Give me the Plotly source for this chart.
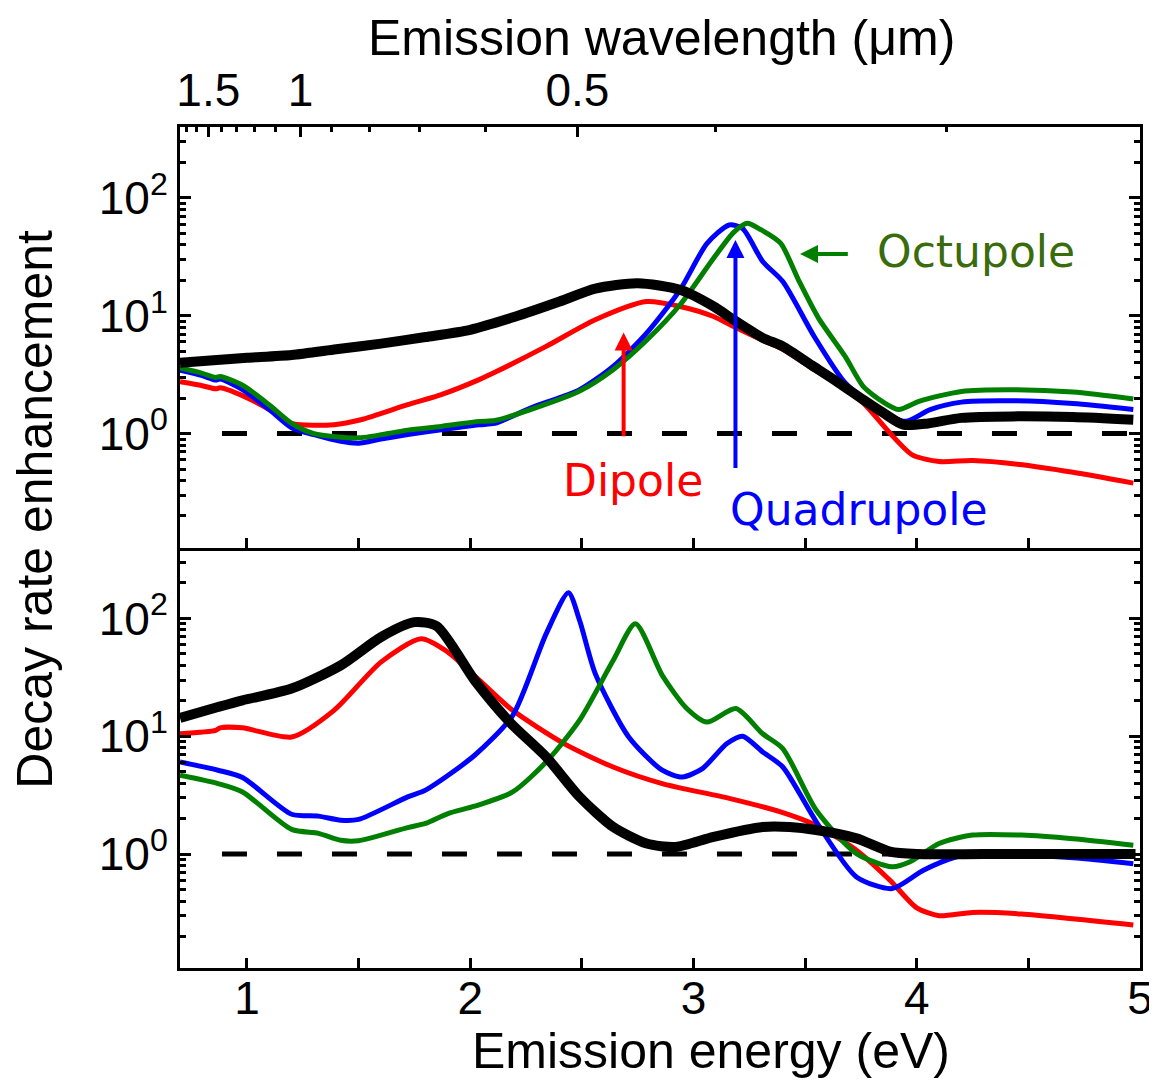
import math
import plotly.graph_objects as go

# ---------------- data ----------------
# Top panel
top_black_E = [0.70, 0.85, 1.0, 1.2, 1.4, 1.6, 1.8, 2.0, 2.2, 2.4, 2.56, 2.75, 2.94, 3.09, 3.18, 3.31, 3.40, 3.53, 3.65, 3.76, 3.85, 3.94, 4.05, 4.2, 4.43, 4.7, 4.97]
top_black_V = [4.0, 4.2, 4.4, 4.65, 5.2, 5.8, 6.6, 7.6, 9.8, 13.2, 17.0, 18.9, 16.6, 12.0, 9.25, 6.5, 5.5, 3.8, 2.7, 1.94, 1.5, 1.19, 1.22, 1.36, 1.40, 1.38, 1.31]

top_red_E = [0.70, 0.80, 0.86, 0.88, 0.98, 1.1, 1.2, 1.39, 1.51, 1.72, 1.87, 2.04, 2.11, 2.34, 2.56, 2.79, 2.94, 3.09, 3.18, 3.31, 3.40, 3.53, 3.65, 3.76, 3.88, 3.98, 4.10, 4.25, 4.45, 4.7, 4.97]
top_red_V = [2.75, 2.55, 2.4, 2.45, 2.1, 1.6, 1.22, 1.19, 1.31, 1.76, 2.14, 2.87, 3.31, 5.5, 9.25, 13.2, 12.0, 9.86, 8.1, 6.2, 5.2, 3.6, 2.6, 1.82, 1.01, 0.66, 0.58, 0.59, 0.55, 0.47, 0.38]

top_blue_E = [0.70, 0.80, 0.86, 0.88, 0.98, 1.1, 1.2, 1.3, 1.42, 1.5, 1.6, 1.72, 1.87, 2.04, 2.11, 2.27, 2.49, 2.64, 2.79, 2.94, 3.06, 3.16, 3.22, 3.31, 3.40, 3.54, 3.68, 3.83, 3.95, 4.06, 4.2, 4.43, 4.7, 4.97]
top_blue_V = [3.45, 3.1, 2.85, 2.9, 2.36, 1.6, 1.12, 0.98, 0.86, 0.83, 0.9, 0.98, 1.08, 1.19, 1.22, 1.65, 2.36, 3.72, 7.13, 16.6, 41, 59, 55, 28.9, 19.5, 6.7, 2.69, 1.6, 1.27, 1.6, 1.85, 1.9, 1.8, 1.6]

top_green_E = [0.70, 0.80, 0.86, 0.88, 0.98, 1.1, 1.2, 1.3, 1.5, 1.72, 1.87, 2.04, 2.11, 2.27, 2.49, 2.64, 2.79, 2.94, 3.09, 3.18, 3.24, 3.30, 3.39, 3.47, 3.56, 3.68, 3.76, 3.85, 3.92, 4.01, 4.2, 4.43, 4.7, 4.97]
top_green_V = [3.6, 3.25, 3.0, 3.05, 2.57, 1.75, 1.22, 1.0, 0.92, 1.07, 1.15, 1.27, 1.29, 1.6, 2.3, 3.49, 6.2, 12.4, 30.8, 51, 61, 54, 41.3, 20.2, 9.56, 4.5, 2.52, 1.85, 1.6, 1.88, 2.28, 2.36, 2.25, 1.97]

# Bottom panel
bot_black_E = [0.70, 0.87, 0.98, 1.2, 1.42, 1.6, 1.75, 1.85, 2.02, 2.18, 2.34, 2.49, 2.64, 2.79, 2.92, 3.09, 3.31, 3.43, 3.55, 3.73, 3.88, 4.0, 4.3, 4.7, 4.98]
bot_black_V = [14.3, 17.7, 20.2, 25.4, 40, 69.5, 93, 86, 29.8, 13.0, 6.68, 3.06, 1.7, 1.23, 1.15, 1.40, 1.7, 1.7, 1.6, 1.36, 1.05, 1.0, 1.0, 1.0, 1.0]

bot_red_E = [0.70, 0.86, 0.88, 0.98, 1.2, 1.39, 1.6, 1.78, 1.9, 2.05, 2.19, 2.42, 2.64, 2.86, 3.16, 3.39, 3.55, 3.73, 3.88, 4.0, 4.1, 4.25, 4.47, 4.97]
bot_red_V = [10.5, 11.2, 11.8, 11.8, 9.86, 16.6, 42.6, 67.3, 51.8, 28.8, 16.6, 8.67, 5.49, 3.97, 2.97, 2.28, 1.75, 1.08, 0.60, 0.35, 0.30, 0.32, 0.31, 0.25]

bot_blue_E = [0.70, 0.87, 0.98, 1.2, 1.32, 1.42, 1.5, 1.72, 1.8, 2.02, 2.19, 2.34, 2.44, 2.49, 2.56, 2.71, 2.86, 2.95, 3.04, 3.15, 3.22, 3.31, 3.40, 3.55, 3.73, 3.89, 4.03, 4.18, 4.4, 4.7, 4.97]
bot_blue_V = [6.05, 5.15, 4.47, 2.18, 2.1, 1.94, 1.97, 3.06, 3.49, 6.9, 15.0, 74, 165, 96, 34, 9.86, 5.15, 4.52, 5.32, 8.67, 10, 7.36, 5.49, 1.88, 0.64, 0.51, 0.73, 0.95, 0.98, 0.93, 0.83]

bot_green_E = [0.70, 0.87, 0.98, 1.2, 1.32, 1.42, 1.5, 1.72, 1.8, 1.9, 2.02, 2.19, 2.34, 2.49, 2.64, 2.74, 2.86, 2.97, 3.06, 3.19, 3.31, 3.40, 3.55, 3.73, 3.89, 3.97, 4.1, 4.25, 4.47, 4.7, 4.97]
bot_green_V = [4.67, 3.97, 3.37, 1.62, 1.5, 1.31, 1.3, 1.68, 1.82, 2.21, 2.55, 3.37, 6.05, 13.7, 44, 90, 32.9, 17.2, 13.2, 17.2, 10.5, 7.87, 2.36, 1.01, 0.78, 0.86, 1.23, 1.45, 1.45, 1.35, 1.19]

ref_E = [0.888, 5.0]
ref_V = [1.0, 1.0]

# Axis ticks
energy_ticks = [1, 2, 3, 4, 5]
energy_minor = [1.5, 2.5, 3.5, 4.5]
wl_major = [1.5, 1.0, 0.5]
wl_major_text = ["1.5", "1", "0.5"]
wl_minor = [1.7, 1.6, 1.4, 1.3, 1.2, 1.1, 0.9, 0.8, 0.7, 0.6, 0.4, 0.3]
y_major = [1, 10, 100]
y_major_text = ["10<sup>0</sup>", "10<sup>1</sup>", "10<sup>2</sup>"]
y_minor = [0.2, 0.3, 0.4, 0.5, 0.6, 0.7, 0.8, 0.9, 2, 3, 4, 5, 6, 7, 8, 9,
           20, 30, 40, 50, 60, 70, 80, 90, 200, 300, 400]

HC = 1.24  # eV*um

RED = "#ff0000"
BLUE = "#0000ff"
GREEN = "#007f00"
BLACK = "#000000"
OCT = "#3a6b0c"

fig = go.Figure()

def add(x, y, color, width, xa, ya, dash=None, shape="spline"):
    fig.add_trace(go.Scatter(
        x=x, y=y, mode="lines", xaxis=xa, yaxis=ya, showlegend=False,
        line=dict(color=color, width=width, shape=shape,
                  smoothing=0.7 if shape == "spline" else None, dash=dash),
        hoverinfo="skip"))

# Top panel (x2, y2)
add(ref_E, ref_V, BLACK, 5, "x2", "y2", dash="25px,30px", shape="linear")
add(top_red_E, top_red_V, RED, 5, "x2", "y2")
add(top_blue_E, top_blue_V, BLUE, 5, "x2", "y2")
add(top_green_E, top_green_V, GREEN, 5, "x2", "y2")
add(top_black_E, top_black_V, BLACK, 10, "x2", "y2")

# Bottom panel (x, y)
add(ref_E, ref_V, BLACK, 5, "x", "y", dash="25px,30px", shape="linear")
add(bot_red_E, bot_red_V, RED, 5, "x", "y")
add(bot_blue_E, bot_blue_V, BLUE, 5, "x", "y")
add(bot_green_E, bot_green_V, GREEN, 5, "x", "y")
add(bot_black_E, bot_black_V, BLACK, 10, "x", "y")

# invisible trace for the wavelength axis
fig.add_trace(go.Scatter(x=[0.7, 5], y=[1, 1], xaxis="x3", yaxis="y2",
                         mode="markers", marker=dict(opacity=0), showlegend=False,
                         hoverinfo="skip"))

TICKFONT = dict(family="Liberation Sans, Arial, sans-serif", size=46, color="black")
XR = [0.7, 5.0]
YR = [math.log10(0.108), math.log10(400)]

common_x = dict(range=XR, showline=True, linecolor="black", linewidth=3,
                ticks="inside", ticklen=10, tickwidth=3, tickcolor="black",
                tickvals=energy_ticks, showgrid=False, zeroline=False,
                automargin=False,
                minor=dict(tickvals=energy_minor, ticks="inside", ticklen=10,
                           tickwidth=3, tickcolor="black"))
common_y = dict(type="log", range=YR, showline=True, linecolor="black", linewidth=3,
                ticks="inside", ticklen=11, tickwidth=3, tickcolor="black",
                tickvals=y_major, ticktext=y_major_text, tickfont=TICKFONT,
                mirror="ticks", showgrid=False, zeroline=False, automargin=False,
                minor=dict(tickvals=y_minor, ticks="inside", ticklen=6,
                           tickwidth=2.5, tickcolor="black"))

fig.update_layout(
    width=1157, height=1083,
    margin=dict(l=172, r=25, t=119, b=123, autoexpand=False),
    paper_bgcolor="white", plot_bgcolor="white",
    font=dict(family="Liberation Sans, Arial, sans-serif", color="black"),
    xaxis=dict(**common_x, anchor="y", domain=[0, 1],
               ticktext=[str(v) for v in energy_ticks], tickfont=TICKFONT,
               ticklabelstandoff=-12),
    xaxis2=dict(**common_x, anchor="y2", domain=[0, 1], matches="x",
                showticklabels=False),
    xaxis3=dict(range=XR, overlaying="x2", side="top", anchor="y2",
                showline=True, linecolor="black", linewidth=3,
                ticks="inside", ticklen=10, tickwidth=3, tickcolor="black",
                tickvals=[HC / w for w in wl_major], ticktext=wl_major_text,
                tickfont=TICKFONT, showgrid=False, zeroline=False, automargin=False,
                minor=dict(tickvals=[HC / w for w in wl_minor], ticks="inside",
                           ticklen=5, tickwidth=3, tickcolor="black")),
    yaxis=dict(**common_y, domain=[0, 0.5], anchor="x"),
    yaxis2=dict(**common_y, domain=[0.5, 1], anchor="x2"),
)

LBL = dict(family="DejaVu Sans, Verdana, sans-serif", size=44)

# Arrows (top panel)
arrows = [
    (2.687, 0.92, 2.687, 7.2, RED),
    (3.188, 0.495, 3.188, 44, BLUE),
    (3.698, 33.5, 3.477, 33.5, GREEN),
]
for x0, y0, x1, y1, c in arrows:
    fig.add_annotation(x=x1, y=math.log10(y1), ax=x0, ay=math.log10(y0),
                       xref="x2", yref="y2", axref="x2", ayref="y2",
                       showarrow=True, arrowhead=2, arrowsize=0.9, arrowwidth=4,
                       arrowcolor=c, text="")

labels = [
    ("Dipole", 2.731, 0.40, RED),
    ("Quadrupole", 3.743, 0.227, BLUE),
    ("Octupole", 4.266, 34.8, OCT),
]
for t, x, y, c in labels:
    fig.add_annotation(x=x, y=math.log10(y), xref="x2", yref="y2", text=t,
                       showarrow=False, font=dict(**LBL, color=c),
                       xanchor="center", yanchor="middle")

TITLE = dict(family="Liberation Sans, Arial, sans-serif", size=50, color="black")
fig.add_annotation(text="Emission energy (eV)", xref="paper", yref="paper",
                   x=0.553, y=-0.099, showarrow=False, font=TITLE,
                   xanchor="center", yanchor="middle")
fig.add_annotation(text="Emission wavelength (μm)", xref="paper", yref="paper",
                   x=0.502, y=1.106, showarrow=False, font=TITLE,
                   xanchor="center", yanchor="middle")
fig.add_annotation(text="Decay rate enhancement", xref="paper", yref="paper",
                   x=-0.151, y=0.545, showarrow=False, font=TITLE, textangle=-90,
                   xanchor="center", yanchor="middle")

fig.write_html("out.html")
